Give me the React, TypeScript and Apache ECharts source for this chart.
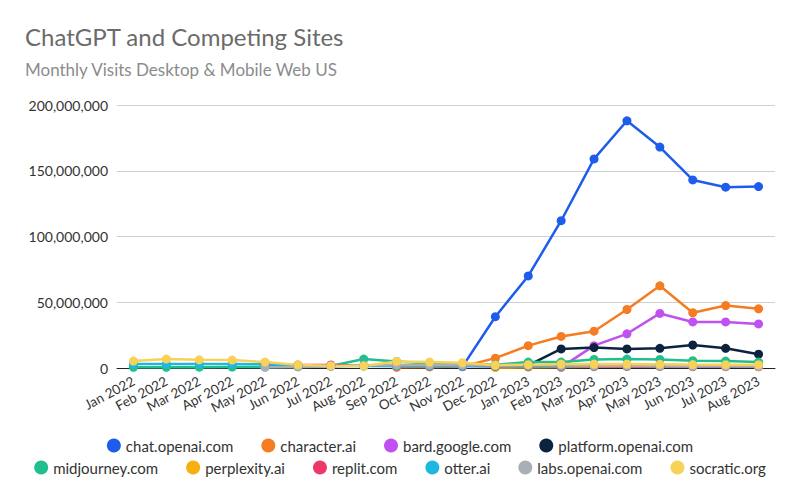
import React, { useEffect, useRef } from "react";
import * as echarts from "echarts";

const months = [
  "Jan 2022", "Feb 2022", "Mar 2022", "Apr 2022", "May 2022", "Jun 2022", "Jul 2022",
  "Aug 2022", "Sep 2022", "Oct 2022", "Nov 2022", "Dec 2022", "Jan 2023", "Feb 2023",
  "Mar 2023", "Apr 2023", "May 2023", "Jun 2023", "Jul 2023", "Aug 2023",
];

const chatOpenai = [null, null, null, null, null, null, null, null, null, null,
  1000000, 39000000, 70000000, 112000000, 159000000, 188000000, 168000000, 143000000, 137500000, 138000000];
const characterAi = [null, null, null, null, null, null, null, null, 500000, 800000,
  1200000, 7500000, 17000000, 24000000, 28000000, 44500000, 62500000, 42000000, 47500000, 45000000];
const bardGoogle = [null, null, null, null, null, null, null, null, null, null,
  null, null, null, 500000, 17000000, 26000000, 41500000, 35000000, 35000000, 33500000];
const platformOpenai = [null, null, null, null, null, null, null, null, null, null,
  null, 1000000, 2000000, 14500000, 15500000, 14500000, 15000000, 17500000, 15000000, 10500000];
const midjourney = [500000, 500000, 600000, 700000, 800000, 1000000, 1500000, 6800000, 5000000, 3500000,
  3000000, 2500000, 4500000, 4500000, 6500000, 6800000, 6500000, 5500000, 5300000, 4500000];
const perplexity = [null, null, null, null, null, null, null, null, null, null,
  null, 300000, 600000, 800000, 1000000, 1200000, 1300000, 1200000, 1100000, 1000000];
const replit = [null, null, null, null, 1500000, 2300000, 2300000, 1800000, 1600000, 1500000,
  1500000, 1200000, 1300000, 1300000, 1300000, 1200000, 1200000, 1100000, 1000000, 1000000];
const otter = [3000000, 3100000, 3100000, 3000000, 2800000, 1800000, 1500000, 1500000, 1600000, 1600000,
  1600000, 1500000, 1600000, 1600000, 1700000, 1700000, 1600000, 1500000, 1500000, 1500000];
const labsOpenai = [null, null, null, null, 500000, 800000, 1200000, 2000000, 2300000, 2300000,
  2300000, 2300000, 2200000, 2000000, 1800000, 1700000, 1500000, 1400000, 1300000, 1200000];
const socratic = [5300000, 6800000, 6200000, 6000000, 4500000, 2300000, 1800000, 1500000, 5000000, 4500000,
  4000000, 2000000, 2500000, 3000000, 3000000, 3000000, 2800000, 2600000, 2500000, 2500000];

const seriesNames = [
  "chat.openai.com", "character.ai", "bard.google.com", "platform.openai.com",
  "midjourney.com", "perplexity.ai", "replit.com", "otter.ai", "labs.openai.com", "socratic.org",
];
const seriesData = [chatOpenai, characterAi, bardGoogle, platformOpenai, midjourney, perplexity, replit, otter, labsOpenai, socratic];
const seriesColors = [
  "#1D5CEC", "#F57C20", "#C050F0", "#0C2340", "#21BF8E",
  "#F6B10E", "#EE3868", "#1CB8E0", "#A8AFB6", "#F7D158",
];

const yTicks = [0, 50000000, 100000000, 150000000, 200000000];

const FONT = "Lato, 'Open Sans', sans-serif";

export default function App() {
  const ref = useRef<HTMLDivElement>(null);
  useEffect(() => {
    if (!ref.current) return;
    const chart = echarts.init(ref.current, undefined, { renderer: "svg" });
    const fmt = (v: number) => v.toLocaleString("en-US");
    const legendText = { fontFamily: FONT, fontSize: 15, color: "#333" };
    chart.setOption({
      animation: false,
      backgroundColor: "#ffffff",
      textStyle: { fontFamily: FONT },
      title: {
        text: "ChatGPT and Competing Sites",
        subtext: "Monthly Visits Desktop & Mobile Web US",
        left: 20,
        top: 19,
        itemGap: 13,
        textStyle: { fontFamily: FONT, fontSize: 24, fontWeight: "normal", color: "#6b6b6b" },
        subtextStyle: { fontFamily: FONT, fontSize: 17, color: "#8c8c8c" },
      },
      legend: [
        {
          data: seriesNames.slice(0, 4),
          top: 433,
          left: "center",
          icon: "circle",
          itemWidth: 14,
          itemHeight: 14,
          itemGap: 28,
          textStyle: legendText,
        },
        {
          data: seriesNames.slice(4),
          top: 455,
          left: "center",
          icon: "circle",
          itemWidth: 14,
          itemHeight: 14,
          itemGap: 28,
          textStyle: legendText,
        },
      ],
      grid: { left: 117, right: 25, top: 105, bottom: 127, containLabel: false },
      xAxis: {
        type: "category",
        data: months,
        boundaryGap: true,
        axisTick: { show: false },
        axisLine: { lineStyle: { color: "#222", width: 1 } },
        axisLabel: {
          rotate: 28,
          interval: 0,
          fontFamily: FONT,
          fontSize: 13.5,
          color: "#333",
          margin: 12,
        },
      },
      yAxis: {
        type: "value",
        min: yTicks[0],
        max: yTicks[yTicks.length - 1],
        interval: yTicks[1] - yTicks[0],
        axisLine: { show: false },
        axisTick: { show: false },
        splitLine: { lineStyle: { color: "#cfcfcf", width: 1 } },
        axisLabel: {
          formatter: (v: number) => fmt(v),
          fontFamily: FONT,
          fontSize: 14,
          color: "#333",
          margin: 9,
        },
      },
      series: seriesNames.map((name, i) => ({
        name,
        type: "line",
        data: seriesData[i],
        color: seriesColors[i],
        symbol: "circle",
        symbolSize: 9,
        showSymbol: true,
        lineStyle: { width: 2.5, color: seriesColors[i] },
        itemStyle: { color: seriesColors[i] },
        connectNulls: false,
      })),
    });
    return () => chart.dispose();
  }, []);
  return (
    <div
      ref={ref}
      style={{ position: "absolute", left: 0, top: 0, width: 800, height: 495 }}
    />
  );
}
